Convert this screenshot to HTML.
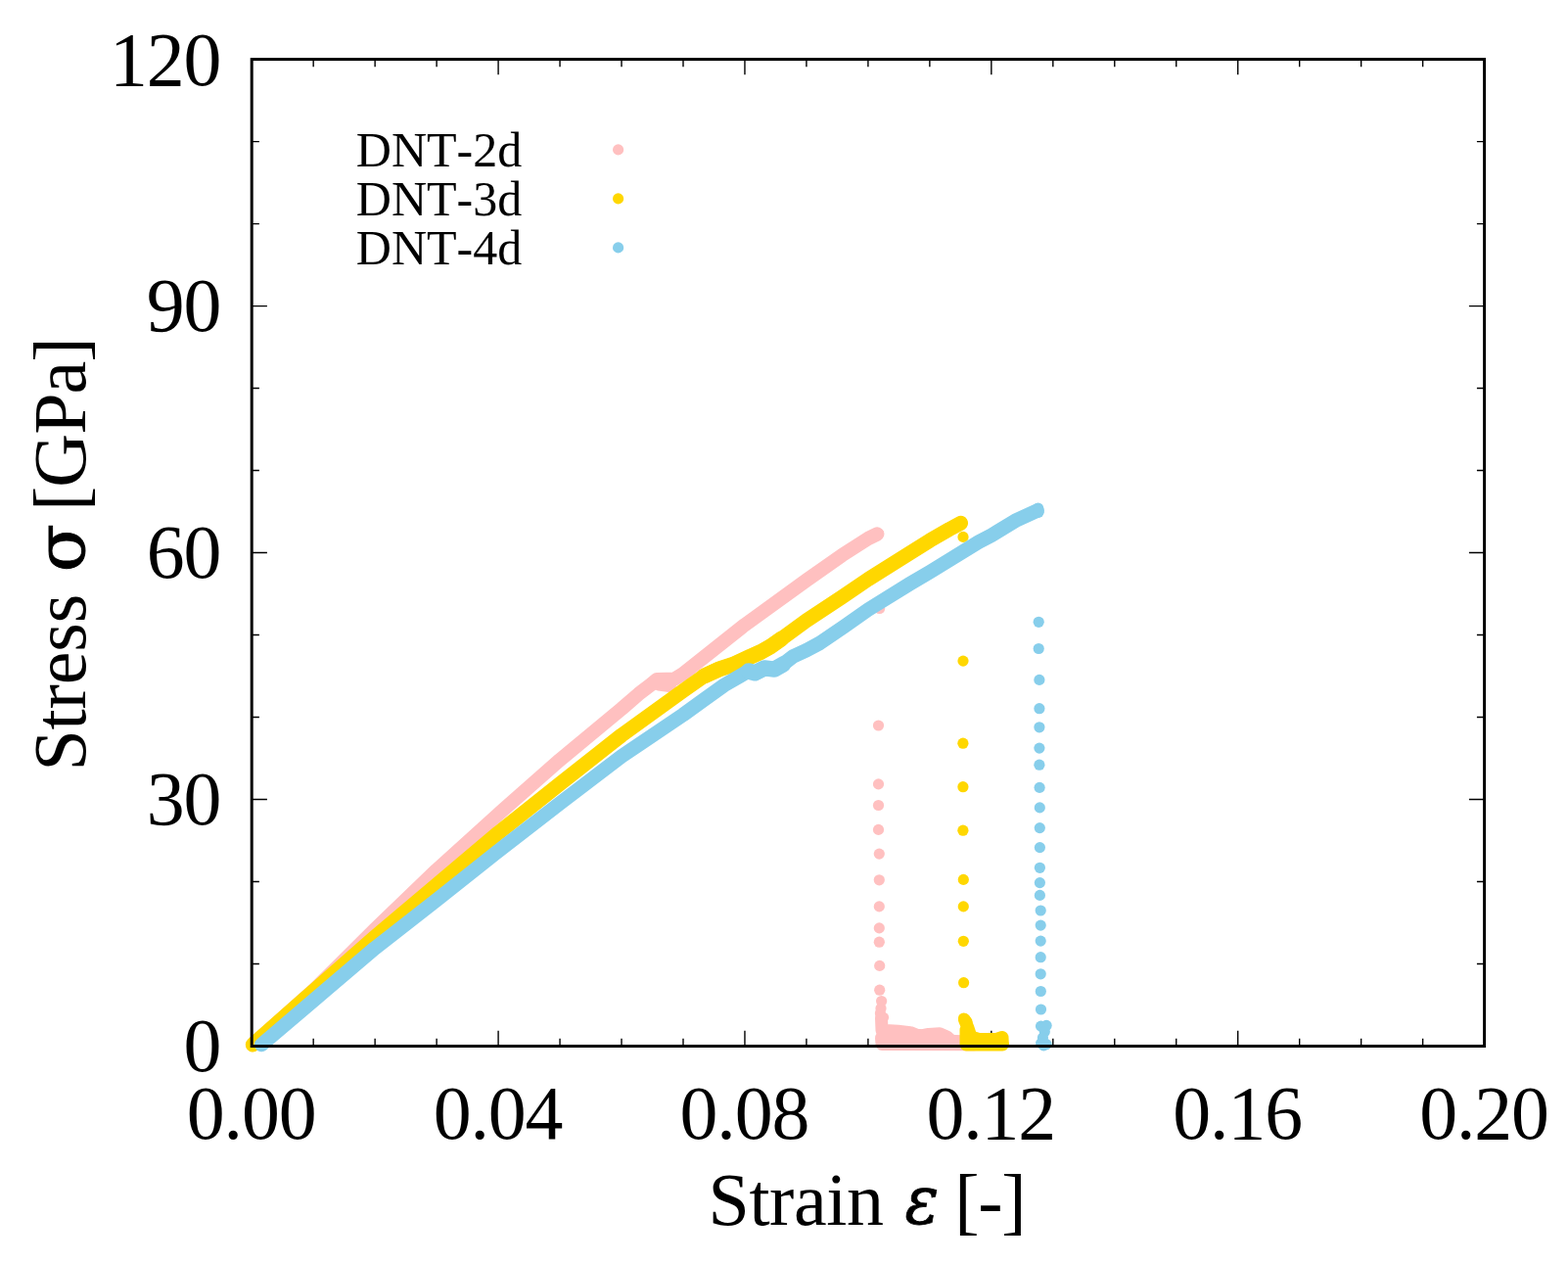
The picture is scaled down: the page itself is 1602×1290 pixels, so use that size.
<!DOCTYPE html>
<html lang="en">
<head>
<meta charset="utf-8">
<title>Stress-strain curves</title>
<style>
html,body{margin:0;padding:0;background:#fff;}
svg{display:block;}
text{font-family:"Liberation Serif","DejaVu Serif",serif;fill:#000;font-kerning:none;}
.tk{font-size:77.8px;letter-spacing:-1.1px;}
.ax{font-size:76px;letter-spacing:-0.45px;}
.gr{font-family:"DejaVu Serif","Liberation Serif",serif;font-style:italic;font-size:69px;stroke:#000;stroke-width:0.8px;}
.gs{font-family:"DejaVu Serif","Liberation Serif",serif;font-size:72px;stroke:#000;stroke-width:1px;}
.lg{font-size:50px;}
</style>
</head>
<body>
<svg width="1602" height="1290" viewBox="0 0 1602 1290">
<rect x="0" y="0" width="1602" height="1290" fill="#fff"/>
<path d="M257.20 1068.50v-15.7M257.20 60.60v15.7M320.17 1068.50v-7.7M320.17 60.60v7.7M383.14 1068.50v-7.7M383.14 60.60v7.7M446.11 1068.50v-7.7M446.11 60.60v7.7M509.08 1068.50v-15.7M509.08 60.60v15.7M572.05 1068.50v-7.7M572.05 60.60v7.7M635.02 1068.50v-7.7M635.02 60.60v7.7M697.99 1068.50v-7.7M697.99 60.60v7.7M760.96 1068.50v-15.7M760.96 60.60v15.7M823.93 1068.50v-7.7M823.93 60.60v7.7M886.90 1068.50v-7.7M886.90 60.60v7.7M949.87 1068.50v-7.7M949.87 60.60v7.7M1012.84 1068.50v-15.7M1012.84 60.60v15.7M1075.81 1068.50v-7.7M1075.81 60.60v7.7M1138.78 1068.50v-7.7M1138.78 60.60v7.7M1201.75 1068.50v-7.7M1201.75 60.60v7.7M1264.72 1068.50v-15.7M1264.72 60.60v15.7M1327.69 1068.50v-7.7M1327.69 60.60v7.7M1390.66 1068.50v-7.7M1390.66 60.60v7.7M1453.63 1068.50v-7.7M1453.63 60.60v7.7M1516.60 1068.50v-15.7M1516.60 60.60v15.7M257.20 1068.50h15.7M1516.60 1068.50h-15.7M257.20 984.51h7.7M1516.60 984.51h-7.7M257.20 900.52h7.7M1516.60 900.52h-7.7M257.20 816.52h15.7M1516.60 816.52h-15.7M257.20 732.53h7.7M1516.60 732.53h-7.7M257.20 648.54h7.7M1516.60 648.54h-7.7M257.20 564.55h15.7M1516.60 564.55h-15.7M257.20 480.56h7.7M1516.60 480.56h-7.7M257.20 396.57h7.7M1516.60 396.57h-7.7M257.20 312.58h15.7M1516.60 312.58h-15.7M257.20 228.58h7.7M1516.60 228.58h-7.7M257.20 144.59h7.7M1516.60 144.59h-7.7M257.20 60.60h15.7M1516.60 60.60h-15.7" fill="none" stroke="#000" stroke-width="1.4"/>
<g fill="#FFC0C0">
<polyline points="258.3,1067.0 320.2,1011.7 383.0,949.3 446.0,888.7 509.0,831.7 572.0,776.2 635.0,724.0 652.5,708.8 665.0,699.3 671.0,694.2 689.0,693.6 698.0,688.2 761.0,638.2 824.0,592.6 860.0,567.3 887.0,550.0 896.2,545.5" fill="none" stroke="#FFC0C0" stroke-width="14.3" stroke-linecap="round" stroke-linejoin="round"/>
<polyline points="673.0,698.5 684.0,700.0" fill="none" stroke="#FFC0C0" stroke-width="14" stroke-linecap="round" stroke-linejoin="round"/>
<polyline points="900.5,1040.0 901.0,1052.5 908.7,1052.7 917.5,1053.3 930.0,1054.6 936.2,1057.1 942.4,1057.7 948.7,1056.5 960.0,1055.8 967.4,1058.9 972.4,1063.3 979.9,1064.2 995.0,1065.0" fill="none" stroke="#FFC0C0" stroke-width="13" stroke-linecap="round" stroke-linejoin="round"/>
<polyline points="900.5,1060.0 901.0,1066.5 995.0,1066.8" fill="none" stroke="#FFC0C0" stroke-width="13" stroke-linecap="round" stroke-linejoin="round"/>
<polyline points="901.0,1059.5 990.0,1062.5" fill="none" stroke="#FFC0C0" stroke-width="10" stroke-linecap="round" stroke-linejoin="round"/>
<circle cx="897.6" cy="544.9" r="5.6"/><circle cx="898.6" cy="621.5" r="5.6"/><circle cx="897.5" cy="741.0" r="5.6"/><circle cx="897.5" cy="800.9" r="5.6"/><circle cx="897.5" cy="822.5" r="5.6"/><circle cx="897.5" cy="847.4" r="5.6"/><circle cx="898.3" cy="872.1" r="5.6"/><circle cx="898.3" cy="898.8" r="5.6"/><circle cx="898.3" cy="925.9" r="5.6"/><circle cx="898.3" cy="947.9" r="5.6"/><circle cx="898.3" cy="962.2" r="5.6"/><circle cx="898.7" cy="986.4" r="5.6"/><circle cx="898.7" cy="1011.2" r="5.6"/><circle cx="900.6" cy="1022.5" r="5.6"/><circle cx="900.0" cy="1030.0" r="5.6"/><circle cx="899.4" cy="1035.0" r="5.6"/><circle cx="902.5" cy="1039.3" r="5.6"/>
</g>
<g fill="#FFD700">
<polyline points="258.3,1067.0 320.2,1012.3 383.0,957.2 446.0,903.9 509.0,850.8 572.0,800.6 635.0,751.0 698.0,705.5 718.7,690.8 726.0,687.4 735.0,683.4 748.7,678.9 761.0,673.2 777.4,665.9 787.4,660.2 799.9,651.4 824.0,633.7 860.0,609.9 887.0,591.6 930.0,564.7 950.0,552.1 970.0,540.5 981.5,534.3" fill="none" stroke="#FFD700" stroke-width="15" stroke-linecap="round" stroke-linejoin="round"/>
<polyline points="720.0,690.2 726.0,687.4 735.0,683.4 748.7,678.9 761.0,673.2 777.4,665.9 787.4,660.2 798.0,652.8" fill="none" stroke="#FFD700" stroke-width="16" stroke-linecap="round" stroke-linejoin="round"/>
<polyline points="985.5,1041.5 989.0,1050.0 992.0,1059.0 1000.0,1061.5 1018.0,1061.5 1024.0,1059.5 1024.3,1066.0" fill="none" stroke="#FFD700" stroke-width="13" stroke-linecap="round" stroke-linejoin="round"/>
<polyline points="987.0,1052.0 987.0,1067.0 1024.3,1067.0" fill="none" stroke="#FFD700" stroke-width="13" stroke-linecap="round" stroke-linejoin="round"/>
<circle cx="982.8" cy="533.4" r="5.6"/><circle cx="984.0" cy="548.4" r="5.6"/><circle cx="984.0" cy="675.1" r="5.6"/><circle cx="983.9" cy="759.2" r="5.6"/><circle cx="983.9" cy="803.7" r="5.6"/><circle cx="983.9" cy="848.2" r="5.6"/><circle cx="984.3" cy="898.4" r="5.6"/><circle cx="984.3" cy="925.9" r="5.6"/><circle cx="984.3" cy="961.3" r="5.6"/><circle cx="984.6" cy="1003.7" r="5.6"/><circle cx="984.6" cy="1040.0" r="5.6"/><circle cx="988.0" cy="1043.7" r="5.6"/>
</g>
<g fill="#87CEEB">
<polyline points="267.2,1067.0 320.2,1021.9 383.0,968.4 446.0,919.2 509.0,869.2 572.0,820.5 635.0,772.5 698.0,730.0 718.7,715.0 740.0,699.8 756.2,690.4 764.9,685.3 771.2,687.0 781.1,682.4 791.1,683.2 799.9,678.6 809.9,670.7 824.0,664.2 837.3,657.0 862.3,640.0 887.0,622.6 930.0,596.0 950.0,584.2 1000.0,553.5 1013.0,546.7 1037.2,531.9 1059.6,521.6" fill="none" stroke="#87CEEB" stroke-width="14.6" stroke-linecap="round" stroke-linejoin="round"/>
<polyline points="764.9,685.5 771.2,687.3 781.1,682.4 791.1,683.6 799.9,678.6" fill="none" stroke="#87CEEB" stroke-width="16.5" stroke-linecap="round" stroke-linejoin="round"/>
<circle cx="1060.6" cy="519.0" r="5.6"/><circle cx="1060.9" cy="523.2" r="5.6"/><circle cx="1061.2" cy="635.3" r="5.6"/><circle cx="1061.2" cy="662.5" r="5.6"/><circle cx="1061.9" cy="694.4" r="5.6"/><circle cx="1061.9" cy="723.7" r="5.6"/><circle cx="1061.9" cy="742.8" r="5.6"/><circle cx="1061.9" cy="764.1" r="5.6"/><circle cx="1061.9" cy="781.2" r="5.6"/><circle cx="1062.1" cy="804.4" r="5.6"/><circle cx="1062.3" cy="824.9" r="5.6"/><circle cx="1062.3" cy="845.6" r="5.6"/><circle cx="1062.4" cy="865.6" r="5.6"/><circle cx="1062.4" cy="886.3" r="5.6"/><circle cx="1062.4" cy="901.6" r="5.6"/><circle cx="1062.4" cy="914.4" r="5.6"/><circle cx="1063.2" cy="930.0" r="5.6"/><circle cx="1063.2" cy="945.1" r="5.6"/><circle cx="1063.2" cy="961.1" r="5.6"/><circle cx="1063.2" cy="977.7" r="5.6"/><circle cx="1063.2" cy="994.8" r="5.6"/><circle cx="1063.3" cy="1012.5" r="5.6"/><circle cx="1063.5" cy="1031.0" r="5.6"/><circle cx="1063.5" cy="1048.1" r="5.6"/><circle cx="1069.1" cy="1047.4" r="5.6"/><circle cx="1067.3" cy="1053.7" r="5.6"/><circle cx="1065.4" cy="1059.9" r="5.6"/><circle cx="1063.6" cy="1065.6" r="5.6"/><circle cx="1069.2" cy="1066.6" r="5.6"/><circle cx="1066.3" cy="1067.8" r="5.6"/>
</g>
<circle cx="631.6" cy="152.9" r="5.6" fill="#FFC0C0"/><circle cx="631.6" cy="202.9" r="5.6" fill="#FFD700"/><circle cx="631.6" cy="252.9" r="5.6" fill="#87CEEB"/>
<rect x="257.2" y="60.6" width="1259.40" height="1007.90" fill="none" stroke="#000" stroke-width="3"/>
<text class="tk" x="256.65" y="1163.2" text-anchor="middle">0.00</text>
<text class="tk" x="508.53" y="1163.2" text-anchor="middle">0.04</text>
<text class="tk" x="760.41" y="1163.2" text-anchor="middle">0.08</text>
<text class="tk" x="1012.29" y="1163.2" text-anchor="middle">0.12</text>
<text class="tk" x="1264.17" y="1163.2" text-anchor="middle">0.16</text>
<text class="tk" x="1516.05" y="1163.2" text-anchor="middle">0.20</text>
<text class="tk" x="225.4" y="1094.40" text-anchor="end">0</text>
<text class="tk" x="225.4" y="842.42" text-anchor="end">30</text>
<text class="tk" x="225.4" y="590.45" text-anchor="end">60</text>
<text class="tk" x="225.4" y="338.48" text-anchor="end">90</text>
<text class="tk" x="225.4" y="86.50" text-anchor="end">120</text>
<text class="ax" x="723.6" y="1251.0">Strain</text>
<text class="gr" transform="translate(924.5 1249.6) scale(0.94 1)" x="0" y="0">ε</text>
<text class="ax" x="975.2" y="1251.6" style="letter-spacing:-1.3px">[-]</text>
<g transform="translate(87.0 787.6) rotate(-90)"><text class="ax" x="0" y="0" style="letter-spacing:-0.15px">Stress</text><text class="gs" transform="translate(203.4 -1.4) scale(1 0.95)" x="0" y="0">σ</text><text class="ax" x="265.6" y="0.4" style="letter-spacing:-1px">[GPa]</text></g>
<text class="lg" x="363.8" y="169.5">DNT-2d</text>
<text class="lg" x="363.8" y="219.6">DNT-3d</text>
<text class="lg" x="363.8" y="269.6">DNT-4d</text>
</svg>
</body>
</html>
